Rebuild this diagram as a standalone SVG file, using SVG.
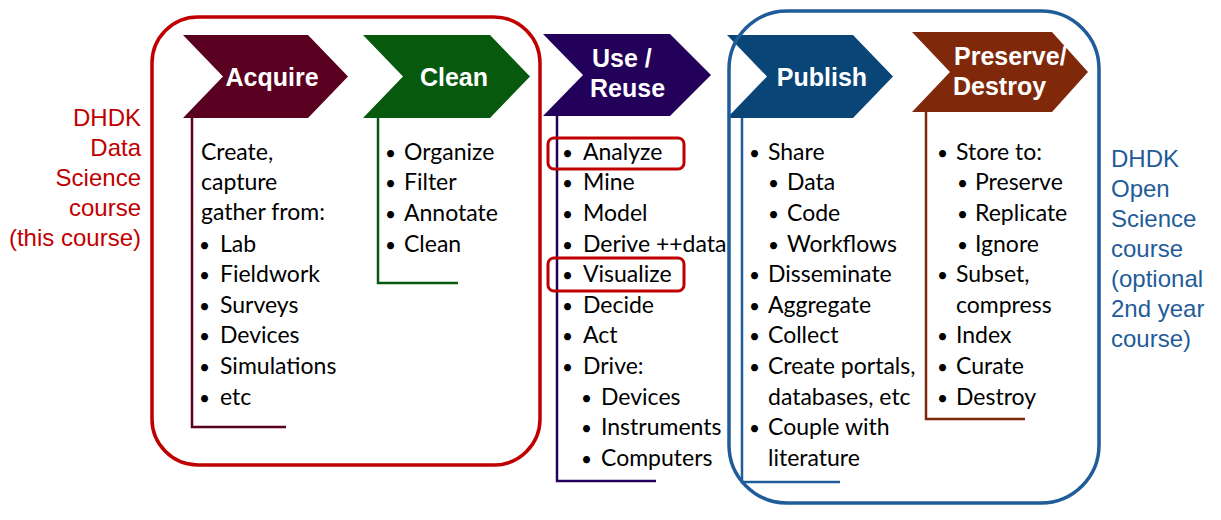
<svg xmlns="http://www.w3.org/2000/svg" width="1221" height="520" viewBox="0 0 1221 520">
  <style>
    .head { font-family: "Liberation Sans", Arial, sans-serif; font-weight: bold; font-size: 25px; fill: #ffffff; }
    .body { font-family: Lato, "Liberation Sans", sans-serif; font-size: 23px; fill: #000000; }
    .body tspan.b { font-size: 19px; }
    .side { font-family: "Liberation Sans", Arial, sans-serif; font-size: 24px; }
    .bracket { fill: none; stroke-width: 2.5; }
    .frame { fill: none; stroke-width: 3.5; }
    .mark { fill: none; stroke: #C00000; stroke-width: 3; }
  </style>

  <rect width="1221" height="520" fill="#ffffff"/>

  <!-- Acquire -->
  <g id="acquire">
    <polygon points="183,35 308,35 348,76.5 308,118 183,118 223,76.5" fill="#5A0020"/>
    <text class="head" x="272" y="86" text-anchor="middle">Acquire</text>
    <polyline class="bracket" stroke="#5A0020" points="192,118 192,427 286,427"/>
    <g class="body">
      <text x="201" y="160">Create,</text>
      <text x="201" y="190">capture</text>
      <text x="201" y="220">gather from:</text>
      <text y="252"><tspan class="b" x="199">•</tspan><tspan x="220">Lab</tspan></text>
      <text y="282"><tspan class="b" x="199">•</tspan><tspan x="220">Fieldwork</tspan></text>
      <text y="313"><tspan class="b" x="199">•</tspan><tspan x="220">Surveys</tspan></text>
      <text y="343"><tspan class="b" x="199">•</tspan><tspan x="220">Devices</tspan></text>
      <text y="374"><tspan class="b" x="199">•</tspan><tspan x="220">Simulations</tspan></text>
      <text y="405"><tspan class="b" x="199">•</tspan><tspan x="220">etc</tspan></text>
    </g>
  </g>

  <!-- Clean -->
  <g id="clean">
    <polygon points="363,35 490,35 530,76.5 490,118 363,118 403,76.5" fill="#075A0D"/>
    <text class="head" x="454" y="86" text-anchor="middle">Clean</text>
    <polyline class="bracket" stroke="#075A0D" points="378,118 378,283 458,283"/>
    <g class="body">
      <text y="160"><tspan class="b" x="385">•</tspan><tspan x="404">Organize</tspan></text>
      <text y="190"><tspan class="b" x="385">•</tspan><tspan x="404">Filter</tspan></text>
      <text y="221"><tspan class="b" x="385">•</tspan><tspan x="404">Annotate</tspan></text>
      <text y="252"><tspan class="b" x="385">•</tspan><tspan x="404">Clean</tspan></text>
    </g>
  </g>

  <!-- Use / Reuse -->
  <g id="use-reuse">
    <polygon points="543,34 670,34 711,75 670,116 543,116 583,75" fill="#23005A"/>
    <text class="head" x="592" y="67">Use /</text>
    <text class="head" x="590" y="97">Reuse</text>
    <polyline class="bracket" stroke="#23005A" points="557,116 557,481 656,481"/>
    <g class="body">
      <text y="160"><tspan class="b" x="562">•</tspan><tspan x="583">Analyze</tspan></text>
      <text y="190"><tspan class="b" x="562">•</tspan><tspan x="583">Mine</tspan></text>
      <text y="221"><tspan class="b" x="562">•</tspan><tspan x="583">Model</tspan></text>
      <text y="252"><tspan class="b" x="562">•</tspan><tspan x="583">Derive ++data</tspan></text>
      <text y="282"><tspan class="b" x="562">•</tspan><tspan x="583">Visualize</tspan></text>
      <text y="313"><tspan class="b" x="562">•</tspan><tspan x="583">Decide</tspan></text>
      <text y="343"><tspan class="b" x="562">•</tspan><tspan x="583">Act</tspan></text>
      <text y="374"><tspan class="b" x="562">•</tspan><tspan x="583">Drive:</tspan></text>
      <text y="405"><tspan class="b" x="581">•</tspan><tspan x="601">Devices</tspan></text>
      <text y="435"><tspan class="b" x="581">•</tspan><tspan x="601">Instruments</tspan></text>
      <text y="466"><tspan class="b" x="581">•</tspan><tspan x="601">Computers</tspan></text>
    </g>
    <rect class="mark" x="548" y="138" width="136" height="31" rx="6"/>
    <rect class="mark" x="548" y="258" width="136" height="33" rx="6"/>
  </g>

  <!-- Publish -->
  <g id="publish">
    <polygon points="727,35 853,35 893,76.5 853,118 727,118 767,76.5" fill="#0A4577"/>
    <text class="head" x="822" y="86" text-anchor="middle">Publish</text>
    <polyline class="bracket" stroke="#1F5C99" points="742,118 742,482 840,482"/>
    <g class="body">
      <text y="160"><tspan class="b" x="749">•</tspan><tspan x="768">Share</tspan></text>
      <text y="190"><tspan class="b" x="768">•</tspan><tspan x="787">Data</tspan></text>
      <text y="221"><tspan class="b" x="768">•</tspan><tspan x="787">Code</tspan></text>
      <text y="252"><tspan class="b" x="768">•</tspan><tspan x="787">Workflows</tspan></text>
      <text y="282"><tspan class="b" x="749">•</tspan><tspan x="768">Disseminate</tspan></text>
      <text y="313"><tspan class="b" x="749">•</tspan><tspan x="768">Aggregate</tspan></text>
      <text y="343"><tspan class="b" x="749">•</tspan><tspan x="768">Collect</tspan></text>
      <text y="374"><tspan class="b" x="749">•</tspan><tspan x="768">Create portals,</tspan></text>
      <text x="768" y="405">databases, etc</text>
      <text y="435"><tspan class="b" x="749">•</tspan><tspan x="768">Couple with</tspan></text>
      <text x="768" y="466">literature</text>
    </g>
  </g>

  <!-- Preserve / Destroy -->
  <g id="preserve-destroy">
    <polygon points="912,32 1052,32 1088,72 1052,112 912,112 950,72" fill="#80290A"/>
    <text class="head" x="954" y="65">Preserve/</text>
    <text class="head" x="953" y="95">Destroy</text>
    <polyline class="bracket" stroke="#80290A" points="926,112 926,419 1025,419"/>
    <g class="body">
      <text y="160"><tspan class="b" x="937">•</tspan><tspan x="956">Store to:</tspan></text>
      <text y="190"><tspan class="b" x="957">•</tspan><tspan x="975">Preserve</tspan></text>
      <text y="221"><tspan class="b" x="957">•</tspan><tspan x="975">Replicate</tspan></text>
      <text y="252"><tspan class="b" x="957">•</tspan><tspan x="975">Ignore</tspan></text>
      <text y="282"><tspan class="b" x="937">•</tspan><tspan x="956">Subset,</tspan></text>
      <text x="956" y="313">compress</text>
      <text y="343"><tspan class="b" x="937">•</tspan><tspan x="956">Index</tspan></text>
      <text y="374"><tspan class="b" x="937">•</tspan><tspan x="956">Curate</tspan></text>
      <text y="405"><tspan class="b" x="937">•</tspan><tspan x="956">Destroy</tspan></text>
    </g>
  </g>

  <!-- Course groupings -->
  <g id="data-science-course">
    <rect class="frame" stroke="#C00000" x="152" y="17" width="388" height="448" rx="46"/>
    <g class="side" fill="#C00000" text-anchor="end">
      <text x="141" y="126">DHDK</text>
      <text x="141" y="156">Data</text>
      <text x="141" y="186">Science</text>
      <text x="141" y="216">course</text>
      <text x="141" y="246">(this course)</text>
    </g>
  </g>

  <g id="open-science-course">
    <rect class="frame" stroke="#1F5C99" x="729" y="11" width="370" height="492" rx="58"/>
    <g class="side" fill="#1F5C99">
      <text x="1111" y="167">DHDK</text>
      <text x="1111" y="197">Open</text>
      <text x="1111" y="227">Science</text>
      <text x="1111" y="257">course</text>
      <text x="1111" y="287">(optional</text>
      <text x="1111" y="317">2nd year</text>
      <text x="1111" y="347">course)</text>
    </g>
  </g>
</svg>
